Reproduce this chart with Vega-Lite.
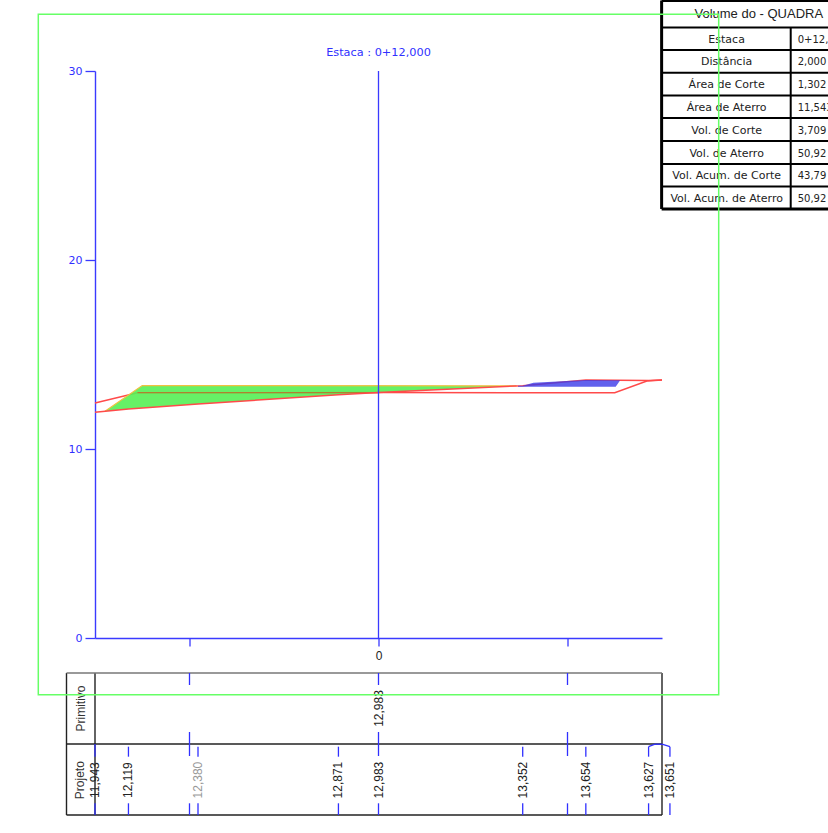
{
"$schema":"https://vega.github.io/schema/vega-lite/v6.json",
"autosize":{"type":"none"},
"padding":{"left":95,"top":71,"right":166,"bottom":195},
"width":567,"height":567,
"background":"white",
"config":{"view":{"stroke":null}},
"datasets":{
"terrain":[{"x":-15,"y":11.943},{"x":-13.23,"y":12.119},{"x":-9.55,"y":12.38},{"x":-2.12,"y":12.871},{"x":0,"y":12.983},{"x":7.63,"y":13.352},{"x":10.97,"y":13.654},{"x":14.29,"y":13.627},{"x":15,"y":13.651}],
"project":[{"x":-15,"y":12.43},{"x":-12.75,"y":12.98},{"x":0,"y":12.983},{"x":12.5,"y":12.98},{"x":14.2,"y":13.6},{"x":15,"y":13.651}],
"projectOver":[{"x":-12.75,"y":12.98},{"x":0,"y":12.983}],
"cut":[{"x":-14.47,"y":12.0,"y2":12.0},{"x":-13.23,"y":12.856,"y2":12.119},{"x":-12.5,"y":13.36,"y2":12.171},{"x":-9.55,"y":13.36,"y2":12.38},{"x":-2.12,"y":13.36,"y2":12.871},{"x":0,"y":13.36,"y2":12.983},{"x":7.3,"y":13.336,"y2":13.336}],
"fillb":[{"x":7.38,"y":13.34,"y2":13.3},{"x":7.63,"y":13.352,"y2":13.3},{"x":8.2,"y":13.5,"y2":13.3},{"x":10.97,"y":13.654,"y2":13.3},{"x":12.55,"y":13.64,"y2":13.29},{"x":12.78,"y":13.635,"y2":13.63}],
"platform":[{"x":-14.47,"y":12.0},{"x":-12.5,"y":13.36},{"x":7.3,"y":13.34}],
"blueLines":[{"x":0,"x2":0,"y":0,"y2":30}],
"tableDark":[
{"x":-16.508,"x2":15,"y":-5.608,"y2":-5.608},
{"x":-16.508,"x2":15,"y":-9.365,"y2":-9.365},
{"x":-16.508,"x2":-16.508,"y":-1.852,"y2":-9.365},
{"x":15,"x2":15,"y":-1.852,"y2":-9.365},
{"x":-15,"x2":-15,"y":-1.852,"y2":-9.365}],
"tableGray":[{"x":-16.508,"x2":15,"y":-1.852,"y2":-1.852}],
"ticks":[
{"x":-10,"x2":-10,"y":-1.852,"y2":-2.487},{"x":0,"x2":0,"y":-1.852,"y2":-2.487},{"x":10,"x2":10,"y":-1.852,"y2":-2.487},
{"x":-10,"x2":-10,"y":-4.974,"y2":-6.243},{"x":0,"x2":0,"y":-4.974,"y2":-6.243},{"x":10,"x2":10,"y":-4.974,"y2":-6.243},
{"x":-10,"x2":-10,"y":-8.746,"y2":-9.365},{"x":10,"x2":10,"y":-8.746,"y2":-9.365},
{"x":-15,"x2":-15,"y":-5.608,"y2":-6.28},{"x":-15,"x2":-15,"y":-8.746,"y2":-9.365},
{"x":-13.23,"x2":-13.23,"y":-5.751,"y2":-6.28},{"x":-13.23,"x2":-13.23,"y":-8.746,"y2":-9.365},
{"x":-9.55,"x2":-9.55,"y":-5.751,"y2":-6.28},{"x":-9.55,"x2":-9.55,"y":-8.746,"y2":-9.365},
{"x":-2.12,"x2":-2.12,"y":-5.751,"y2":-6.28},{"x":-2.12,"x2":-2.12,"y":-8.746,"y2":-9.365},
{"x":0,"x2":0,"y":-8.746,"y2":-9.365},
{"x":7.63,"x2":7.63,"y":-5.751,"y2":-6.28},{"x":7.63,"x2":7.63,"y":-8.746,"y2":-9.365},
{"x":10.97,"x2":10.97,"y":-5.751,"y2":-6.28},{"x":10.97,"x2":10.97,"y":-8.746,"y2":-9.365},
{"x":14.29,"x2":14.29,"y":-5.751,"y2":-6.28},{"x":14.29,"x2":14.29,"y":-8.746,"y2":-9.365},
{"x":15.42,"x2":15.42,"y":-5.751,"y2":-6.28},{"x":15.42,"x2":15.42,"y":-8.746,"y2":-9.365},
{"x":14.29,"x2":14.63,"y":-5.751,"y2":-5.62},{"x":14.63,"x2":15,"y":-5.62,"y2":-5.62},{"x":15,"x2":15.42,"y":-5.62,"y2":-5.751}],
"vals":[
{"x":0,"y":-3.73,"t":"12,983"},
{"x":-15,"y":-7.52,"t":"11,943"},{"x":-13.23,"y":-7.52,"t":"12,119"},{"x":-2.12,"y":-7.52,"t":"12,871"},{"x":0,"y":-7.52,"t":"12,983"},{"x":7.63,"y":-7.52,"t":"13,352"},{"x":10.97,"y":-7.52,"t":"13,654"},{"x":14.29,"y":-7.52,"t":"13,627"},{"x":15.42,"y":-7.52,"t":"13,651"}],
"valsGray":[{"x":-9.55,"y":-7.52,"t":"12,380"}],
"rowNames":[{"x":-15.72,"y":-3.73,"t":"Primitivo"},{"x":-15.77,"y":-7.52,"t":"Projeto"}],
"sideTableOuter":[
{"x":14.98,"x2":14.98,"y":33.73,"y2":22.7},
{"x":14.98,"x2":24,"y":33.73,"y2":33.73},
{"x":14.98,"x2":24,"y":22.7,"y2":22.7}],
"sideTableInner":[
{"x":14.98,"x2":24,"y":32.3,"y2":32.3},
{"x":14.98,"x2":24,"y":31.11,"y2":31.11},
{"x":14.98,"x2":24,"y":29.91,"y2":29.91},
{"x":14.98,"x2":24,"y":28.71,"y2":28.71},
{"x":14.98,"x2":24,"y":27.51,"y2":27.51},
{"x":14.98,"x2":24,"y":26.3,"y2":26.3},
{"x":14.98,"x2":24,"y":25.08,"y2":25.08},
{"x":14.98,"x2":24,"y":23.89,"y2":23.89},
{"x":21.81,"x2":21.81,"y":32.3,"y2":22.7}],
"tableHead":[{"x":20.12,"y":33.0,"t":"Volume do - QUADRA"}],
"tableNames":[
{"x":18.42,"y":31.65,"t":"Estaca"},{"x":18.42,"y":30.45,"t":"Distância"},{"x":18.42,"y":29.25,"t":"Área de Corte"},{"x":18.42,"y":28.05,"t":"Área de Aterro"},{"x":18.42,"y":26.84,"t":"Vol. de Corte"},{"x":18.42,"y":25.63,"t":"Vol. de Aterro"},{"x":18.42,"y":24.43,"t":"Vol. Acum. de Corte"},{"x":18.42,"y":23.24,"t":"Vol. Acum. de Aterro"}],
"tableVals":[
{"x":22.18,"y":31.65,"t":"0+12,000"},{"x":22.18,"y":30.45,"t":"2,000"},{"x":22.18,"y":29.25,"t":"1,302"},{"x":22.18,"y":28.05,"t":"11,543"},{"x":22.18,"y":26.84,"t":"3,709"},{"x":22.18,"y":25.63,"t":"50,92"},{"x":22.18,"y":24.43,"t":"43,79"},{"x":22.18,"y":23.24,"t":"50,92"}],
"station":[{"x":0,"y":30.93,"t":"Estaca : 0+12,000"}],
"frame":[{"x":-18,"x2":18,"y":33,"y2":-3}]
},
"encoding":{
"x":{"field":"x","type":"quantitative","title":null,"scale":{"domain":[-15,15],"nice":false,"zero":false},
"axis":{"values":[-10,0,10],"labelExpr":"datum.value==0?'0':''","grid":false,"domainColor":"#3a3aff","domainWidth":1.4,"tickColor":"#3a3aff","tickWidth":1.3,"tickRound":false,"tickSize":8,"labelPadding":4,"labelColor":"#222222","labelFont":"Liberation Sans","labelFontSize":12,"labelOverlap":false,"labelFlush":false}},
"y":{"field":"y","type":"quantitative","title":null,"scale":{"domain":[0,30],"nice":false,"zero":false},
"axis":{"values":[0,10,20,30],"grid":false,"domainColor":"#3a3aff","domainWidth":1.4,"tickColor":"#3a3aff","tickWidth":1.3,"tickSize":10,"labelPadding":3,"labelColor":"#3030ff","labelFont":"DejaVu Sans","labelFontSize":11,"labelOverlap":false,"labelFlush":false}}
},
"layer":[
{"data":{"name":"tableDark"},"mark":{"type":"rule","stroke":"#222222","strokeWidth":1.4},"encoding":{"x2":{"field":"x2"},"y2":{"field":"y2"}}},
{"data":{"name":"tableGray"},"mark":{"type":"rule","stroke":"#777777","strokeWidth":1.4},"encoding":{"x2":{"field":"x2"},"y2":{"field":"y2"}}},
{"data":{"name":"ticks"},"mark":{"type":"rule","stroke":"#3030ff","strokeWidth":1.3},"encoding":{"x2":{"field":"x2"},"y2":{"field":"y2"}}},
{"data":{"name":"vals"},"mark":{"type":"text","angle":270,"font":"Liberation Sans","fontSize":12,"color":"#222222","align":"center","baseline":"middle"},"encoding":{"text":{"field":"t"}}},
{"data":{"name":"valsGray"},"mark":{"type":"text","angle":270,"font":"Liberation Sans","fontSize":12,"color":"#999999","align":"center","baseline":"middle"},"encoding":{"text":{"field":"t"}}},
{"data":{"name":"rowNames"},"mark":{"type":"text","angle":270,"font":"Liberation Sans","fontSize":12,"color":"#333333","align":"center","baseline":"middle"},"encoding":{"text":{"field":"t"}}},
{"data":{"name":"project"},"mark":{"type":"line","stroke":"#ff4a4a","strokeWidth":1.5},"encoding":{}},
{"data":{"name":"cut"},"mark":{"type":"area","fill":"#55f055","opacity":0.9},"encoding":{"y2":{"field":"y2"}}},
{"data":{"name":"projectOver"},"mark":{"type":"line","stroke":"#b08030","strokeWidth":1.2},"encoding":{}},
{"data":{"name":"platform"},"mark":{"type":"line","stroke":"#f0c040","strokeWidth":1.2},"encoding":{}},
{"data":{"name":"terrain"},"mark":{"type":"line","stroke":"#ff4a4a","strokeWidth":1.5},"encoding":{}},
{"data":{"name":"fillb"},"mark":{"type":"area","fill":"#3a3ae8","opacity":0.8},"encoding":{"y2":{"field":"y2"}}},
{"data":{"name":"blueLines"},"mark":{"type":"rule","stroke":"#3a3aff","strokeWidth":1.3},"encoding":{"x2":{"field":"x2"},"y2":{"field":"y2"}}},
{"data":{"name":"station"},"mark":{"type":"text","font":"DejaVu Sans","fontSize":11.3,"color":"#3030ff","align":"center","baseline":"middle"},"encoding":{"text":{"field":"t"}}},
{"data":{"name":"sideTableInner"},"mark":{"type":"rule","stroke":"#000000","strokeWidth":2},"encoding":{"x2":{"field":"x2"},"y2":{"field":"y2"}}},
{"data":{"name":"sideTableOuter"},"mark":{"type":"rule","stroke":"#000000","strokeWidth":3},"encoding":{"x2":{"field":"x2"},"y2":{"field":"y2"}}},
{"data":{"name":"tableHead"},"mark":{"type":"text","font":"Liberation Sans","fontSize":13,"color":"#222222","align":"center","baseline":"middle"},"encoding":{"text":{"field":"t"}}},
{"data":{"name":"tableNames"},"mark":{"type":"text","font":"DejaVu Sans","fontSize":11,"color":"#222222","align":"center","baseline":"middle"},"encoding":{"text":{"field":"t"}}},
{"data":{"name":"tableVals"},"mark":{"type":"text","font":"DejaVu Sans","fontSize":10,"color":"#222222","align":"left","baseline":"middle"},"encoding":{"text":{"field":"t"}}},
{"data":{"name":"frame"},"mark":{"type":"rect","filled":false,"stroke":"#66ff66","strokeWidth":1.5},"encoding":{"x2":{"field":"x2"},"y2":{"field":"y2"}}}
]
}
